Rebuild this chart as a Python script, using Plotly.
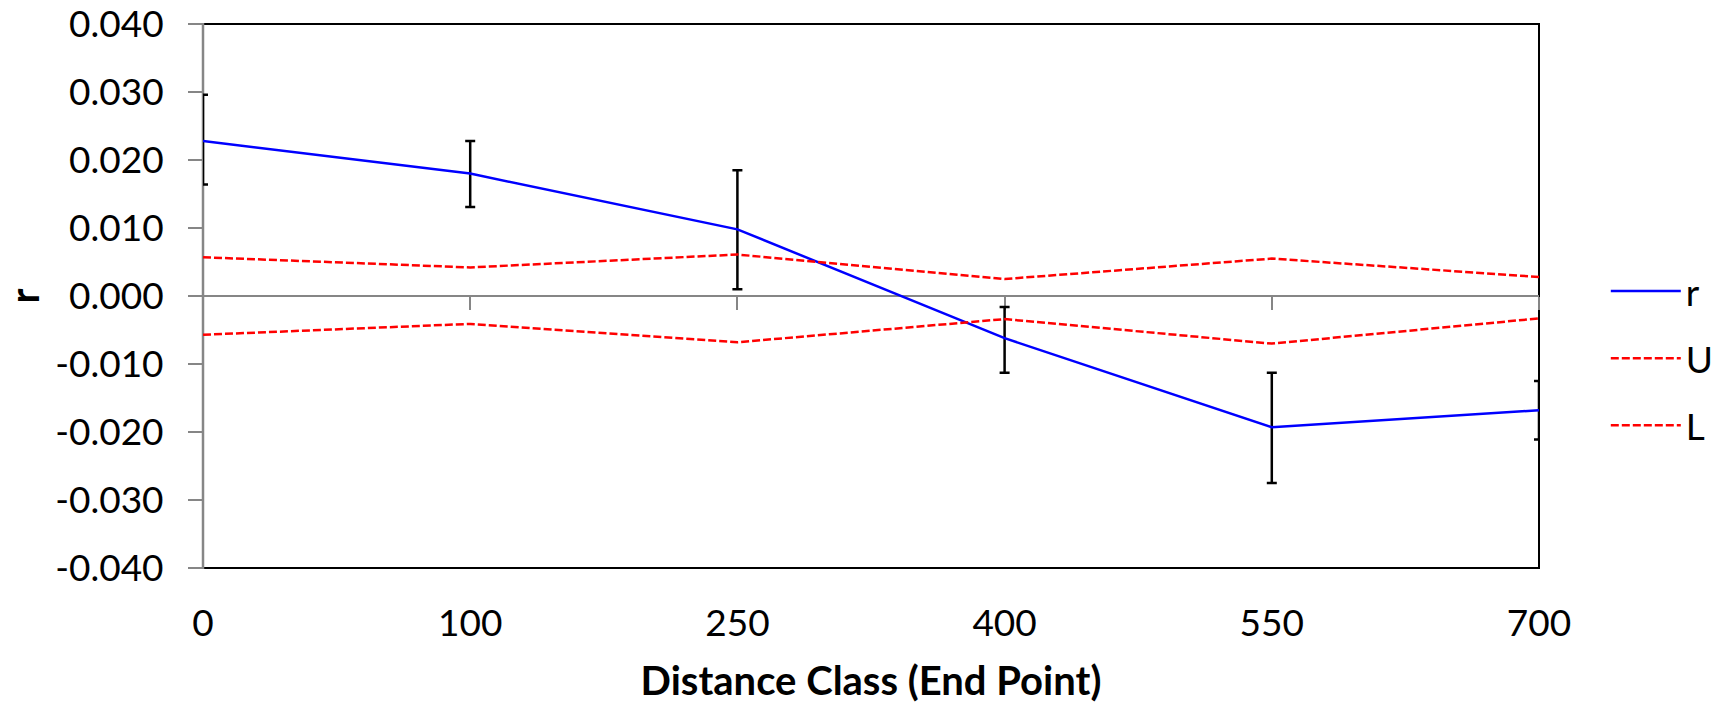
import plotly.graph_objects as go

# ---- data ----
categories = ['0', '100', '250', '400', '550', '700']
r_values = [0.0228, 0.0180, 0.0098, -0.0062, -0.0193, -0.0168]
r_upper = [0.0296, 0.0228, 0.0185, -0.0016, -0.0113, -0.0125]
r_lower = [0.0164, 0.0131, 0.0010, -0.0113, -0.0275, -0.0211]
u_values = [0.0057, 0.0042, 0.0061, 0.0025, 0.0055, 0.0028]
l_values = [-0.0057, -0.0041, -0.0068, -0.0034, -0.0070, -0.0033]
y_tick_vals = [0.04, 0.03, 0.02, 0.01, 0.0, -0.01, -0.02, -0.03, -0.04]
y_tick_text = ['0.040', '0.030', '0.020', '0.010', '0.000', '-0.010', '-0.020', '-0.030', '-0.040']

err_plus = [h - v for h, v in zip(r_upper, r_values)]
err_minus = [v - l for v, l in zip(r_values, r_lower)]

FONT = 'Lato'
TICK_SIZE = 37
TITLE_SIZE = 40
AXIS_GRAY = '#868686'

fig = go.Figure()
fig.add_trace(go.Scatter(
    x=categories, y=r_values, name='r', mode='lines',
    line=dict(color='#0000FF', width=2.5),
    error_y=dict(type='data', symmetric=False, array=err_plus, arrayminus=err_minus,
                 color='black', thickness=2.5, width=5),
    cliponaxis=False,
    legendgroup='r', xaxis='x', yaxis='y'))
fig.add_trace(go.Scatter(
    x=categories, y=u_values, name='U', mode='lines',
    line=dict(color='#FF0000', width=2.5, dash='8px,3px'),
    legendgroup='U', xaxis='x2', yaxis='y'))
fig.add_trace(go.Scatter(
    x=categories, y=l_values, name='L', mode='lines',
    line=dict(color='#FF0000', width=2.5, dash='8px,3px'),
    legendgroup='L', xaxis='x2', yaxis='y'))

fig.update_layout(
    template='none',
    width=1727, height=704,
    margin=dict(l=203, r=188, t=24, b=136, autoexpand=False),
    paper_bgcolor='white', plot_bgcolor='white',
    font=dict(family=FONT, size=TICK_SIZE, color='black'),
    showlegend=True,
    legend=dict(x=1.05, xanchor='left', y=0.385, yanchor='middle',
                font=dict(family=FONT, size=TICK_SIZE, color='black'),
                itemwidth=70, tracegroupgap=16, traceorder='grouped',
                bgcolor='rgba(0,0,0,0)', borderwidth=0),
    xaxis=dict(type='category', categoryorder='array', categoryarray=categories,
               range=[0, len(categories) - 1], showgrid=False, zeroline=False,
               showline=False, ticks='', ticklabelstandoff=30, automargin=False,
               ticklabeloverflow='allow',
               tickfont=dict(family=FONT, size=TICK_SIZE, color='black'),
               title=dict(text='<b>Distance Class (End Point)</b>', standoff=25,
                          font=dict(family=FONT, size=TITLE_SIZE, color='black'))),
    xaxis2=dict(type='category', categoryorder='array', categoryarray=categories,
                range=[0, len(categories) - 1], overlaying='x', anchor='free', position=0.5,
                showgrid=False, zeroline=False, showline=True, linecolor=AXIS_GRAY, linewidth=2,
                ticks='outside', ticklen=13, tickwidth=2, tickcolor=AXIS_GRAY,
                showticklabels=False, layer='below traces', automargin=False),
    yaxis=dict(range=[-0.04, 0.04], tickvals=y_tick_vals, ticktext=y_tick_text,
               showgrid=False, zeroline=False, showline=False,
               ticks='outside', ticklen=14, tickwidth=2, tickcolor=AXIS_GRAY,
               ticklabelstandoff=17, layer='below traces', automargin=False,
               ticklabeloverflow='allow',
               tickfont=dict(family=FONT, size=TICK_SIZE, color='black'),
               title=dict(text='<b>r</b>', standoff=38,
                          font=dict(family=FONT, size=TITLE_SIZE, color='black'))),
    shapes=[
        dict(type='rect', xref='paper', yref='paper', x0=0, x1=1, y0=0, y1=1,
             line=dict(color='black', width=2), fillcolor='rgba(0,0,0,0)', layer='below'),
        dict(type='line', xref='paper', yref='paper', x0=0, x1=0, y0=-0.002, y1=1.002,
             line=dict(color=AXIS_GRAY, width=2.5), layer='below'),
    ],
)

fig.write_html('out.html', config={'displayModeBar': False},
               post_script="document.body.style.margin='0px';document.body.style.overflow='hidden';")
